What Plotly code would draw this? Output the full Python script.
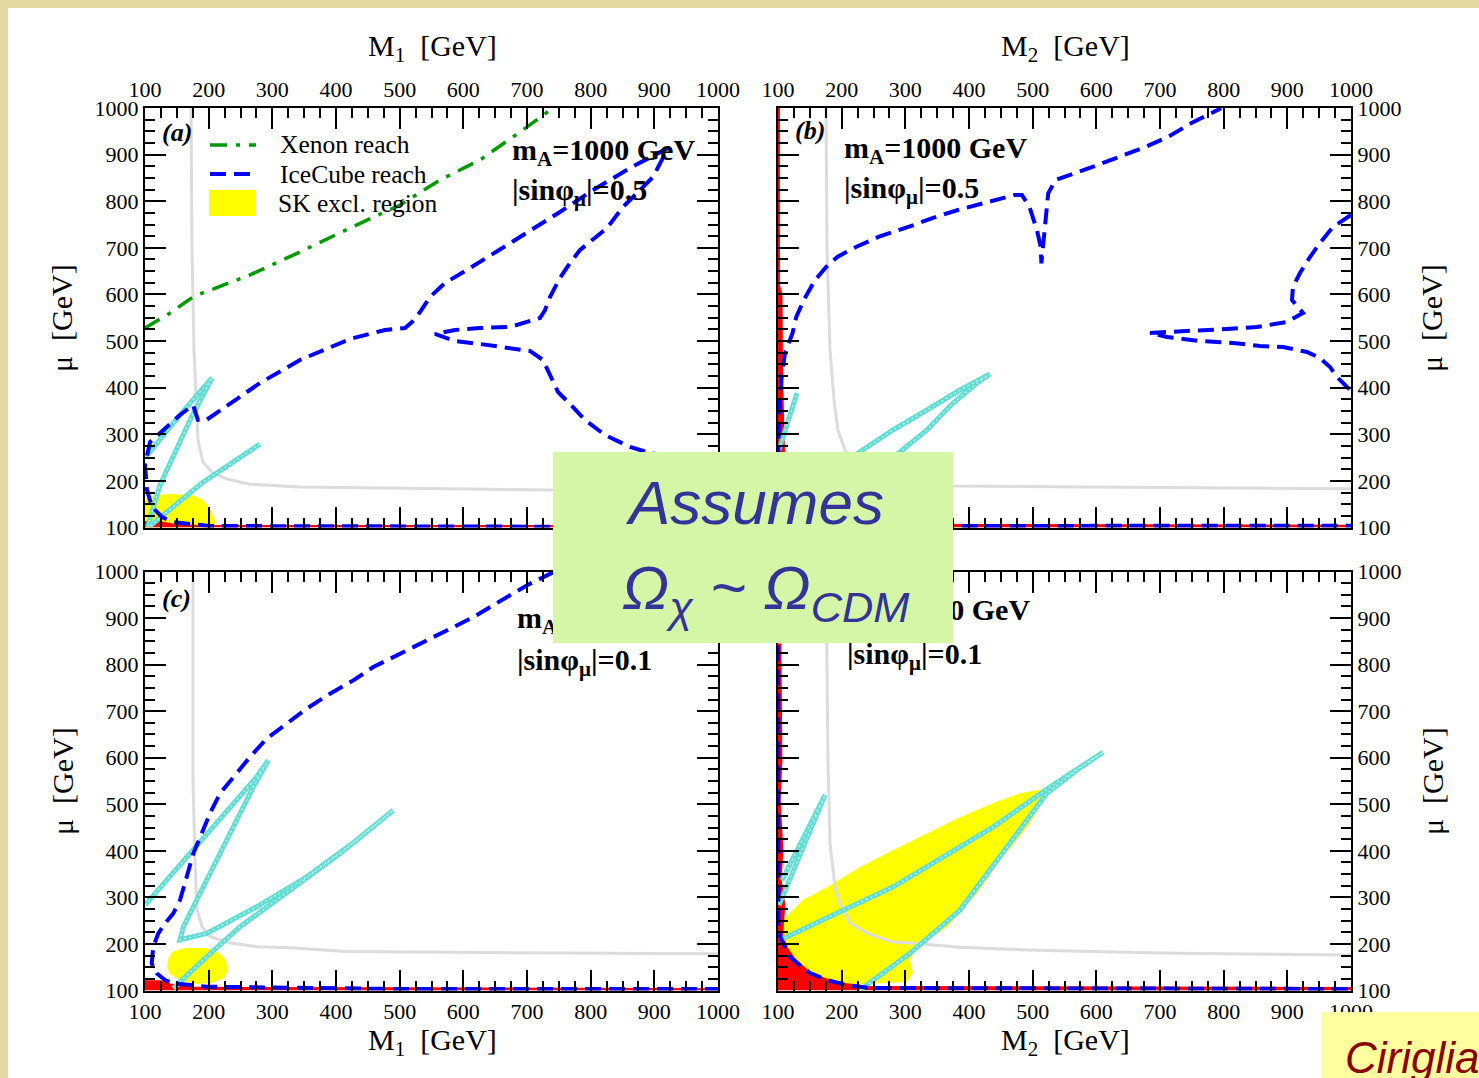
import plotly.graph_objects as go

W, H = 1479, 1078

# ---------------- data (GeV) ----------------
tick_vals = [100, 200, 300, 400, 500, 600, 700, 800, 900, 1000]
tick_text = ["100", "200", "300", "400", "500", "600", "700", "800", "900", "1000"]

# ---- panel (a): M1 vs mu, |sin phi|=0.5
a_xenon_M1 = [100, 139.3, 170.7, 186.4, 264.9, 343.5, 422, 500.6, 563.4, 626.2, 689, 740.8]
a_xenon_mu = [528, 560.2, 590.3, 601, 641.8, 691.1, 742.6, 791.9, 845.6, 888.5, 948.5, 1000]

a_ice_M1 = [1000, 202.1, 170.7, 144.0, 126.7, 111.0, 103.1, 100.0, 107.9, 123.6, 139.3, 155.0, 175.4,
            183.2, 194.2, 210.0, 238.2, 280.6, 343.5, 422.0, 477.0, 508.4, 519.4, 532.0, 547.6, 571.2,
            610.5, 649.7, 689.0, 751.8, 799.0, 861.8, 921.5, 897.9, 850.8, 825.7, 783.3, 767.5, 751.8,
            736.1, 728.3, 720.4, 696.9, 673.3, 626.2, 586.9, 555.5, 586.9, 626.2, 673.3, 704.7, 725.1,
            736.1, 748.7, 767.5, 791.1, 822.5, 861.8, 893.2, 956.0]
a_ice_mu = [101, 103.2, 107.5, 111.8, 122.5, 144.0, 180.5, 234.1, 283.4, 302.7, 324.2, 341.4, 362.8,
            330.6, 328.5, 343.5, 369.3, 410.0, 459.4, 504.4, 523.8, 528.0, 540.9, 562.3, 594.5, 624.5,
            656.7, 688.9, 723.2, 776.9, 819.8, 871.3, 914.2, 852.0, 787.6, 742.6, 695.3, 667.4, 635.3,
            594.5, 566.6, 549.5, 538.8, 530.2, 528.0, 523.8, 515.2, 500.1, 493.7, 485.1, 478.7, 459.4,
            427.2, 390.7, 365.0, 330.6, 298.5, 272.7, 259.8, 244.8]

a_cyan1_M1 = [100.0, 155.0, 205.2, 170.7, 123.6, 107.9, 104.0]
a_cyan1_mu = [249.1, 341.4, 420.8, 330.6, 191.2, 116.1, 101.0]
a_cyan2_M1 = [107.9, 190.0, 280.6]
a_cyan2_mu = [103.2, 196.0, 279.1]

a_sk_M1 = [100, 100, 107.9, 139.3, 173.8, 189.5, 200.5, 208.4, 213.1]
a_sk_mu = [100, 159, 167.6, 171.9, 169.7, 161.1, 144.0, 122.5, 100]

a_red_M1 = [100, 100, 123.6, 147.1, 186.4, 1000, 1000]
a_red_mu = [100, 113.9, 113.9, 107.5, 105.4, 105.4, 100]

a_gray_M1 = [172.3, 173.8, 177.0, 180.1, 183.2, 191.1, 206.8, 228.8, 264.9, 343.5, 579.1, 814.7, 1000]
a_gray_mu = [1000, 695, 480, 373, 288, 240, 217, 204, 193, 187, 183, 178, 176]

# ---- panel (b): M2 vs mu, |sin phi|=0.5
b_ice_M2 = [100.0, 101.6, 105.2, 111.0, 122.9, 128.7, 140.5, 158.3, 176.0, 193.8, 223.3, 258.6, 305.9,
            341.4, 382.7, 424.0, 471.3, 483.1, 494.9, 506.7, 512.6, 513.7, 518.4, 524.4, 536.2, 559.9,
            595.2, 636.5, 677.9, 713.4, 748.7, 796.0]
b_ice_mu = [240.0, 330.6, 416.4, 474.4, 517.3, 551.6, 588.1, 631.0, 659.5, 681.0, 702.4, 723.9, 745.3,
            763.4, 781.2, 795.6, 813.3, 813.3, 788.2, 738.3, 702.4, 666.8, 731.2, 817.0, 845.5, 856.3,
            874.1, 895.5, 916.9, 938.4, 967.2, 999.4]
b_ice2_M2 = [1000, 971.7, 951.3, 935.6, 919.9, 908.9, 907.3, 924.6, 899.5, 852.4, 805.3, 762.8, 711.0,
             684.3, 711.0, 762.8, 814.7, 857.1, 893.2, 930.9, 951.3, 967.0, 978.0, 993.7, 1000]
b_ice2_mu = [770.4, 744.7, 710.4, 680.3, 646.0, 616.0, 588.1, 560.2, 540.9, 530.2, 525.9, 523.8, 519.4,
             517.3, 508.7, 500.1, 495.8, 489.4, 487.2, 476.5, 463.6, 444.4, 422.9, 401.4, 395.0]
b_ice3_M2 = [200, 1000]
b_ice3_mu = [103, 104]

b_cyan1_M2 = [197.4, 228.8, 280.6, 334.0, 385.9, 433.0, 412.6, 374.9, 334.0, 291.6, 268.1]
b_cyan1_mu = [234.1, 262.0, 309.2, 352.1, 395.0, 429.3, 410.0, 367.1, 309.2, 262.0, 234.1]
b_cyan2_M2 = [101.6, 129.8]
b_cyan2_mu = [266.3, 388.5]

b_red_M2 = [100, 100, 103.0, 103.0, 107, 108, 111, 120, 160, 1000, 1000]
b_red_mu = [100, 1000, 1000, 620, 600, 420, 260, 130, 108, 106, 100]

b_gray_M2 = [175.4, 177.0, 181.7, 188.0, 194.2, 205.2, 228.8, 260.2, 374.9, 1000]
b_gray_mu = [1000, 695, 481, 373, 309, 266, 223, 202, 189, 183]

# ---- panel (c): M1 vs mu, |sin phi|=0.1
c_ice_M1 = [741.3, 699.5, 668.1, 615.6, 573.9, 531.9, 495.3, 458.6, 427.2, 390.6, 353.9, 322.6, 291.2,
            264.9, 238.7, 217.8, 202.1, 186.4, 175.9, 165.5, 155.0, 144.5, 131.4, 120.9, 113.0, 110.5,
            118.4, 131.4, 144.5, 196.9, 500.5, 1000]
c_ice_mu = [998.5, 970.0, 944.9, 902.0, 873.4, 844.9, 819.8, 794.7, 766.1, 737.6, 705.4, 673.2, 641.0,
            601.6, 558.7, 523.1, 480.2, 430.0, 394.3, 344.1, 294.2, 265.6, 244.2, 222.7, 194.0, 158.4,
            136.9, 122.5, 115.4, 108.2, 103.2, 103.2]

c_cyan1_M1 = [100.0, 275.4, 293.7, 270.1, 238.7, 196.9, 160.2, 155.0, 196.9, 275.4, 354.0, 432.5, 490.0,
              406.3, 327.8, 249.2, 196.9, 144.5]
c_cyan1_mu = [283.4, 558.7, 594.5, 537.3, 451.4, 337.1, 236.9, 208.9, 222.7, 279.8, 344.1, 422.9, 487.3,
              394.3, 315.3, 236.9, 172.5, 104.7]

c_sk_M1 = [136.1, 142.4, 162.8, 194.2, 214.7, 227.2, 230.4, 224.1, 205.2, 178.5, 155.0, 139.3, 134.6]
c_sk_mu = [165.4, 182.6, 191.2, 191.2, 182.6, 165.4, 144.0, 126.8, 116.1, 114.0, 122.5, 135.4, 150.4]

c_red_M1 = [100, 100, 125, 140, 170, 1000, 1000]
c_red_mu = [100, 122, 122, 115, 108, 105, 100]

c_gray_M1 = [175.4, 175.4, 178.5, 181.7, 189.5, 202.1, 228.8, 275.9, 327.8, 417.3, 637.2, 1000]
c_gray_mu = [1000, 553, 381, 274, 237, 216, 203, 194, 192, 184, 181.5, 179]

# ---- panel (d): M2 vs mu, |sin phi|=0.1
d_ice_M2 = [100.0, 100.8, 107.9, 118.8, 129.8, 150.3, 177.0, 208.4, 244.5, 1000]
d_ice_mu = [841.2, 223.4, 201.9, 171.9, 159.0, 137.5, 122.5, 111.8, 105.4, 103.2]

d_cyan1_M2 = [103.1, 281.1, 438.2, 527.2, 610.5, 569.2, 522.0, 464.4, 385.9, 307.3, 228.8]
d_cyan1_mu = [208.4, 322.7, 451.4, 537.2, 611.7, 573.1, 523.1, 415.8, 272.7, 179.8, 101.1]
d_cyan2_M2 = [101.6, 173.8, 106.3]
d_cyan2_mu = [283.6, 519.6, 337.1]

d_sk_M2 = [101.6, 107.9, 123.6, 139.3, 177.0, 228.8, 280.6, 334.0, 385.9, 437.7, 480.1, 516.2, 520.9,
           491.1, 448.7, 412.6, 365.4, 318.3, 307.3, 312.0, 302.6, 228.8, 134.6, 101.6]
d_sk_mu = [197.6, 251.3, 272.7, 294.2, 322.0, 365.0, 401.4, 437.9, 472.2, 502.3, 523.8, 532.4, 517.3,
           450.8, 380.0, 309.2, 236.3, 193.3, 165.4, 137.5, 118.2, 113.9, 109.7, 109.7]

d_red_M2 = [100, 100, 105.3, 106.9, 104.2, 108.4, 105.8, 111.6, 107.9, 115.7, 126.7, 147.1, 173.8,
            205.2, 244.5, 1000, 1000]
d_red_mu = [100, 845.5, 845.5, 594.5, 508.7, 401.4, 337.1, 283.4, 219.0, 191.2, 169.7, 144.0, 126.8,
            116.1, 109.7, 107.5, 100]

d_gray_M2 = [175.4, 178.5, 181.7, 189.5, 197.4, 213.1, 239.8, 280.6, 307.3, 385.9, 491.1, 700, 1000]
d_gray_mu = [1000, 594, 416, 322, 288, 245, 223, 204, 202, 193, 187, 180.5, 176]

# ---------------- styles ----------------
BLUE = "#0000FF"
GREEN = "#009A00"
CYAN = "#62DDD4"
GRAY = "#DCDCDC"
RED = "#FF0000"
YELLOW = "#FFFF00"
SERIF = "Liberation Serif"
SANS = "Liberation Sans"

fig = go.Figure()

def fill(xs, ys, color, ax):
    fig.add_trace(go.Scatter(x=xs, y=ys, mode="lines", fill="toself", fillcolor=color,
                             line=dict(width=0, color=color), xaxis="x" + ax, yaxis="y" + ax,
                             hoverinfo="skip", showlegend=False))

def line(xs, ys, color, width, ax, dash="solid"):
    fig.add_trace(go.Scatter(x=xs, y=ys, mode="lines", line=dict(color=color, width=width, dash=dash),
                             xaxis="x" + ax, yaxis="y" + ax, hoverinfo="skip", showlegend=False))

def band(xs, ys, ax):
    # hatched-looking turquoise band: thick turquoise stroke with a light dotted core
    line(xs, ys, CYAN, 5, ax)
    line(xs, ys, "#C8F4F0", 1.2, ax, "2px,3px")

ICE_DASH = "16px,8px"
XE_DASH = "17px,9px,4px,9px"

# panel a  (axis suffix "")
fill(a_sk_M1, a_sk_mu, YELLOW, "")
fill(a_red_M1, a_red_mu, RED, "")
line(a_gray_M1, a_gray_mu, GRAY, 3, "")
band(a_cyan1_M1, a_cyan1_mu, "")
band(a_cyan2_M1, a_cyan2_mu, "")
line(a_ice_M1, a_ice_mu, BLUE, 4, "", ICE_DASH)
line(a_xenon_M1, a_xenon_mu, GREEN, 3.5, "", XE_DASH)

# panel b
fill(b_red_M2, b_red_mu, RED, "2")
line(b_gray_M2, b_gray_mu, GRAY, 3, "2")
band(b_cyan1_M2, b_cyan1_mu, "2")
band(b_cyan2_M2, b_cyan2_mu, "2")
line(b_ice_M2, b_ice_mu, BLUE, 4, "2", ICE_DASH)
line(b_ice2_M2, b_ice2_mu, BLUE, 4, "2", ICE_DASH)
line(b_ice3_M2, b_ice3_mu, BLUE, 4, "2", ICE_DASH)

# panel c
fill(c_sk_M1, c_sk_mu, YELLOW, "3")
fill(c_red_M1, c_red_mu, RED, "3")
line(c_gray_M1, c_gray_mu, GRAY, 3, "3")
band(c_cyan1_M1, c_cyan1_mu, "3")
line(c_ice_M1, c_ice_mu, BLUE, 4, "3", ICE_DASH)

# panel d
fill(d_sk_M2, d_sk_mu, YELLOW, "4")
fill(d_red_M2, d_red_mu, RED, "4")
line(d_gray_M2, d_gray_mu, GRAY, 3, "4")
band(d_cyan1_M2, d_cyan1_mu, "4")
band(d_cyan2_M2, d_cyan2_mu, "4")
line(d_ice_M2, d_ice_mu, BLUE, 4, "4", ICE_DASH)

# ---------------- axes ----------------
def PX(x):
    return x / W

def PY(y):
    return 1 - y / H

def axis(domain, side, anchor):
    return dict(domain=domain, range=[100, 1000], side=side, anchor=anchor, automargin=False,
                tickmode="array", tickvals=tick_vals, ticktext=tick_text,
                ticks="inside", ticklen=21, tickwidth=1.6, tickcolor="black",
                minor=dict(tickmode="linear", tick0=100, dtick=25, ticks="inside", ticklen=10,
                           tickwidth=1.6, tickcolor="black", showgrid=False),
                showline=True, linecolor="black", linewidth=2, mirror="allticks",
                showgrid=False, zeroline=False, fixedrange=True,
                tickfont=dict(family=SERIF, size=22, color="black"))

xL = [PX(145), PX(718)]
xR = [PX(778), PX(1351)]
yT = [PY(527.5), PY(108)]
yB = [PY(990.5), PY(571.5)]

fig.update_layout(
    width=W, height=H, autosize=False,
    margin=dict(l=0, r=0, t=0, b=0, pad=0, autoexpand=False),
    paper_bgcolor="#E4D9A2", plot_bgcolor="white", showlegend=False, hovermode=False,
    xaxis=axis(xL, "top", "y"), yaxis=axis(yT, "left", "x"),
    xaxis2=axis(xR, "top", "y2"), yaxis2=axis(yT, "right", "x2"),
    xaxis3=axis(xL, "bottom", "y3"), yaxis3=axis(yB, "left", "x3"),
    xaxis4=axis(xR, "bottom", "y4"), yaxis4=axis(yB, "right", "x4"),
)

shapes = [
    dict(type="rect", xref="paper", yref="paper", x0=PX(8), x1=1.0, y0=0.0, y1=PY(8),
         fillcolor="white", line=dict(width=0), layer="below"),
    # legend samples (panel a)
    dict(type="line", xref="paper", yref="paper", x0=PX(210), x1=PX(256), y0=PY(145), y1=PY(145),
         line=dict(color=GREEN, width=3.5, dash=XE_DASH)),
    dict(type="line", xref="paper", yref="paper", x0=PX(210), x1=PX(256), y0=PY(174), y1=PY(174),
         line=dict(color=BLUE, width=4, dash=ICE_DASH)),
    dict(type="rect", xref="paper", yref="paper", x0=PX(209), x1=PX(256), y0=PY(216), y1=PY(190),
         fillcolor=YELLOW, line=dict(width=0)),
]
fig.update_layout(shapes=shapes)

ann = []

def text(x, y, s, size, family=SERIF, color="black", xanchor="center", yanchor="middle", angle=0):
    ann.append(dict(x=PX(x), y=PY(y), xref="paper", yref="paper", text=s, showarrow=False,
                    xanchor=xanchor, yanchor=yanchor, textangle=angle,
                    font=dict(family=family, size=size, color=color)))

NB = "\u00a0"
# axis titles
text(432, 48, "M<sub>1</sub>" + NB + NB + "[GeV]", 30)
text(1065, 48, "M<sub>2</sub>" + NB + NB + "[GeV]", 30)
text(432, 1042, "M<sub>1</sub>" + NB + NB + "[GeV]", 30)
text(1065, 1042, "M<sub>2</sub>" + NB + NB + "[GeV]", 30)
for yc in (318, 781):
    text(62, yc, "μ" + NB + NB + "[GeV]", 30, angle=-90)
    text(1432, yc, "μ" + NB + NB + "[GeV]", 30, angle=-90)

# panel labels
text(160, 132, "<b><i>(a)</i></b>", 26, xanchor="left")
text(793, 130, "<b><i>(b)</i></b>", 26, xanchor="left")
text(160, 598, "<b><i>(c)</i></b>", 26, xanchor="left")

# parameter texts
params = [(510, 152, 192, "0.5"), (842, 150, 190, "0.5"), (515, 620, 662, "0.1"), (845, 612, 656, "0.1")]
for x0, y1, y2, s in params:
    text(x0, y1, "<b>m<sub>A</sub>=1000 GeV</b>", 30, xanchor="left")
    text(x0, y2, "<b>|sinφ<sub>μ</sub>|=" + s + "</b>", 30, xanchor="left")

# legend texts
text(278, 145, "Xenon reach", 25.5, xanchor="left")
text(278, 174, "IceCube reach", 25.5, xanchor="left")
text(276, 204, "SK excl. region", 25.5, xanchor="left")

# overlay boxes (drawn last, on top)
ann.append(dict(x=PX(553), y=PY(452), xref="paper", yref="paper", text=" ", showarrow=False,
                xanchor="left", yanchor="top", width=400, height=191, bgcolor="#D4F6A6",
                borderpad=0, borderwidth=0))
text(755, 503, "<i>Assumes</i>", 62, family=SANS, color="#333399")
text(766, 592, "<i>Ω<sub>χ</sub> ~ Ω<sub>CDM</sub></i>", 62, family=SANS, color="#333399")

ann.append(dict(x=PX(1322), y=PY(1012), xref="paper", yref="paper", text=" ", showarrow=False,
                xanchor="left", yanchor="top", width=157, height=66, bgcolor="#FFFFA0",
                borderpad=0, borderwidth=0))
text(1343, 1057, "<i>Ciriglia</i>", 44, family=SANS, color="#8B0000", xanchor="left")

fig.update_layout(annotations=ann)

fig.write_html("out.html", config={"displayModeBar": False},
               post_script="document.body.style.margin='0px';")
